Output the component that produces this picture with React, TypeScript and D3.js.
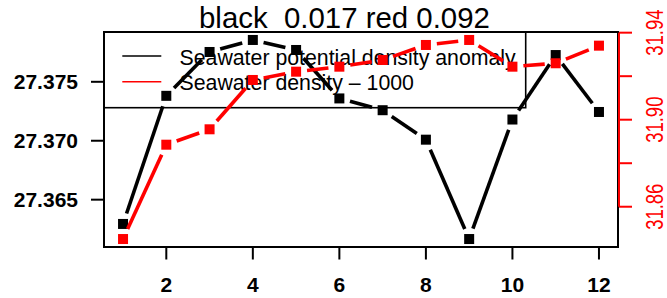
import React from 'react';
import { scaleLinear, line, extent } from 'd3';

// monthly values
const months = [1, 2, 3, 4, 5, 6, 7, 8, 9, 10, 11, 12];
const potentialDensityAnomaly = [
  27.36294, 27.37381, 27.37753, 27.37855, 27.3777, 27.37359,
  27.37259, 27.37009, 27.36166, 27.3718, 27.37727, 27.37244
];
const seawaterDensity = [
  31.84515, 31.88851, 31.89559, 31.91826, 31.92207, 31.92437,
  31.92745, 31.93435, 31.93665, 31.92437, 31.92594, 31.93403
];
const xTicks = [2, 4, 6, 8, 10, 12];
const leftTicks = [27.365, 27.37, 27.375];
const rightTicks = [31.86, 31.88, 31.9, 31.92, 31.94];
const rightLabels = [31.86, 31.9, 31.94];
const title = 'black  0.017 red 0.092';
const legendLabels = ['Seawater potential density anomaly', 'Seawater density \u2013 1000'];

const W = 667;
const H = 298;
const box = { left: 104, right: 618, top: 32, bottom: 247 };

// R style 4% padding around the data range
const padded = (vals: number[]) => {
  const [lo, hi] = extent(vals) as [number, number];
  const p = (hi - lo) * 0.04;
  return [lo - p, hi + p];
};

const App = () => {
  const x = scaleLinear().domain(padded(months)).range([box.left, box.right]);
  const yL = scaleLinear().domain(padded(potentialDensityAnomaly)).range([box.bottom, box.top]);
  const yR = scaleLinear().domain(padded(seawaterDensity)).range([box.bottom, box.top]);

  const gap = 11;
  // type = "b": segments that stop short of the points
  const segs = (vals: number[], y: any) => {
    const out: string[] = [];
    const gen = line();
    for (let i = 0; i < vals.length - 1; i++) {
      const x0 = x(months[i]), y0 = y(vals[i]);
      const x1 = x(months[i + 1]), y1 = y(vals[i + 1]);
      const len = Math.hypot(x1 - x0, y1 - y0);
      if (len <= 2 * gap) continue;
      const ux = (x1 - x0) / len, uy = (y1 - y0) / len;
      out.push(gen([[x0 + ux * gap, y0 + uy * gap], [x1 - ux * gap, y1 - uy * gap]]) as string);
    }
    return out;
  };

  const font = 'Liberation Sans, Arial, Helvetica, sans-serif';
  const sq = 10;

  return (
    <svg width={W} height={H} style={{ position: 'absolute', left: 0, top: 0, background: '#fff' }} fontFamily={font}>
      <text x={199} y={28.3} fontSize={29.4} style={{ whiteSpace: 'pre' }} fill="#000">{title}</text>

      {/* black series */}
      {segs(potentialDensityAnomaly, yL).map((d, i) => (
        <path key={'bs' + i} d={d} stroke="#000" strokeWidth={3.6} fill="none" />
      ))}
      {potentialDensityAnomaly.map((v, i) => (
        <rect key={'bp' + i} x={x(months[i]) - sq / 2} y={yL(v) - sq / 2} width={sq} height={sq} fill="#000" />
      ))}

      {/* legend */}
      <rect x={box.left} y={box.top} width={525.7 - box.left} height={107.7 - box.top} fill="none" stroke="#000" strokeWidth={1.6} />
      {legendLabels.map((t, i) => (
        <g key={'lg' + i}>
          <line x1={122.3} x2={161.3} y1={56 + i * 25.7} y2={56 + i * 25.7} stroke={i === 0 ? '#000' : '#ff0000'} strokeWidth={1.4} />
          <text x={179.5} y={65 + i * 25.3} fontSize={21.3} fill="#000">{t}</text>
        </g>
      ))}

      {/* red series */}
      {segs(seawaterDensity, yR).map((d, i) => (
        <path key={'rs' + i} d={d} stroke="#ff0000" strokeWidth={3.6} fill="none" />
      ))}
      {seawaterDensity.map((v, i) => (
        <rect key={'rp' + i} x={x(months[i]) - sq / 2} y={yR(v) - sq / 2} width={sq} height={sq} fill="#ff0000" />
      ))}

      {/* box */}
      <rect x={box.left} y={box.top} width={box.right - box.left} height={box.bottom - box.top} fill="none" stroke="#000" strokeWidth={2} />

      {/* left axis */}
      {leftTicks.map((t) => (
        <g key={'l' + t}>
          <line x1={91} x2={box.left} y1={yL(t)} y2={yL(t)} stroke="#000" strokeWidth={2} />
          <text x={78} y={yL(t)} dy="0.36em" textAnchor="end" fontSize={21} fontWeight="bold">{t.toFixed(3)}</text>
        </g>
      ))}

      {/* bottom axis */}
      {xTicks.map((t) => (
        <g key={'b' + t}>
          <line x1={x(t)} x2={x(t)} y1={box.bottom} y2={259.5} stroke="#000" strokeWidth={2} />
          <text x={x(t)} y={291.7} textAnchor="middle" fontSize={21} fontWeight="bold">{t}</text>
        </g>
      ))}

      {/* right axis */}
      <line x1={619} x2={619} y1={yR(rightTicks[0])} y2={yR(rightTicks[rightTicks.length - 1])} stroke="#ff0000" strokeWidth={2} />
      {rightTicks.map((t) => (
        <line key={'r' + t} x1={619} x2={632} y1={yR(t)} y2={yR(t)} stroke="#ff0000" strokeWidth={2} />
      ))}
      {rightLabels.map((t) => (
        <text key={'rl' + t} transform={`translate(663,${yR(t)}) rotate(-90) scale(0.88,1.1)`} textAnchor="middle" fontSize={21} fill="#ff0000">
          {t.toFixed(2)}
        </text>
      ))}
    </svg>
  );
};

export default App;
